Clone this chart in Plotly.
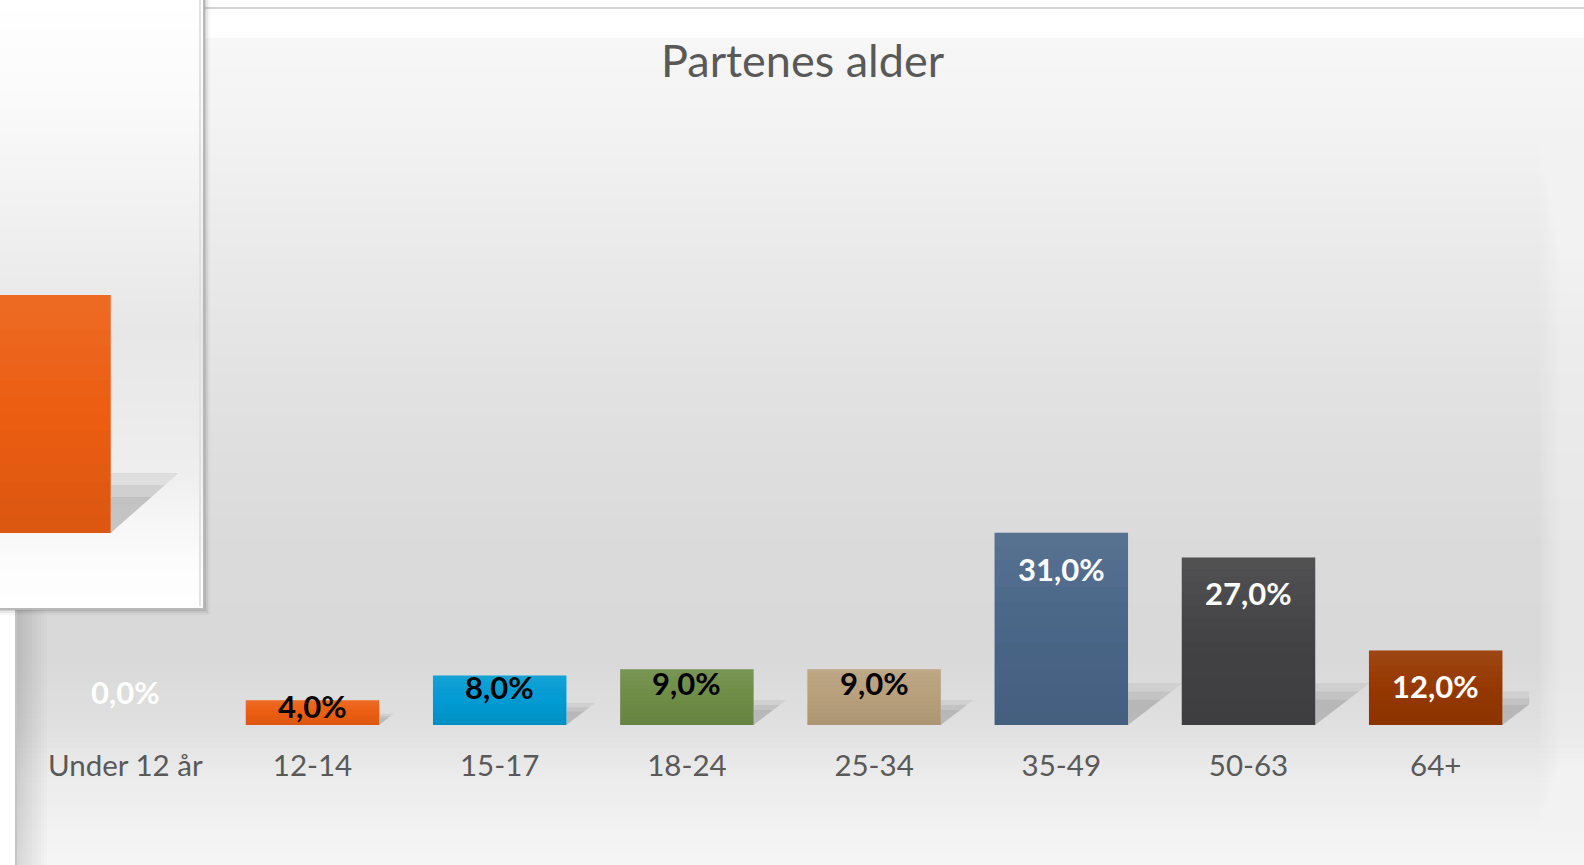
import plotly.graph_objects as go

# ---------------- data ----------------
categories = ["Under 12 år", "12-14", "15-17", "18-24", "25-34", "35-49", "50-63", "64+"]
shares = [0.0, 4.0, 8.0, 9.0, 9.0, 31.0, 27.0, 12.0]
chart_title = "Partenes alder"
# partially visible neighbouring chart (only one cropped bar is visible)
panel_shares = [38.4]

# ---------------- styling ----------------
W, H = 1584, 865
bar_colors = ["#ec5e12", "#ec5e12", "#009bd3", "#6f8d47", "#b8a07c", "#4a6688", "#434345", "#963800"]
label_colors = ["#ffffff", "#000000", "#000000", "#000000", "#000000", "#ffffff", "#ffffff", "#ffffff"]
label_offsets = [-33, 6, 12, 14, 14, 36, 35, 35]   # px below bar top (negative = above)
FONT = "Lato"
TXT = "#595959"
BAR_W = 0.713


def fx(x):
    return x / W


def fy(y):
    return 1 - y / H


px_per_unit_y = 6.2
base_y = 725
top_y = 105
ymax = (base_y - top_y) / px_per_unit_y
band = 187.2
x_left = 31.7
n = len(categories)
xs = list(range(n))

fig = go.Figure()

fig.add_trace(go.Bar(
    x=xs, y=shares, marker=dict(color=bar_colors, line=dict(width=0)),
    width=BAR_W, hoverinfo="skip", showlegend=False, xaxis="x", yaxis="y",
))

# neighbouring chart's bar
fig.add_trace(go.Bar(
    x=[0], y=panel_shares, marker=dict(color="#ec5e12", line=dict(width=0)),
    width=BAR_W, hoverinfo="skip", showlegend=False, xaxis="x2", yaxis="y2",
))

shapes = []

# background gradient of chart area
stops = [(38, 247), (120, 243), (250, 234), (400, 225), (550, 218), (660, 217),
         (725, 224), (780, 236), (865, 246)]


def grey_at(y):
    for (y0, c0), (y1, c1) in zip(stops[:-1], stops[1:]):
        if y0 <= y <= y1:
            t = (y - y0) / (y1 - y0)
            return c0 + (c1 - c0) * t
    return stops[-1][1]


step = 5
y = 38
while y < H:
    g = int(round(grey_at(y + step / 2)))
    shapes.append(dict(type="rect", xref="paper", yref="paper", layer="below",
                       x0=fx(16), x1=1, y0=fy(y + step + 0.5), y1=fy(y),
                       fillcolor=f"rgb({g},{g},{g})", line=dict(width=0)))
    y += step

# right light band of the frame (soft edge)
for i in range(8):
    shapes.append(dict(type="rect", xref="paper", yref="paper", layer="below",
                       x0=fx(1540 + i * 3), x1=1, y0=0, y1=fy(40),
                       fillcolor="rgba(255,255,255,0.07)", line=dict(width=0)))
# left shading of the frame
for i in range(10):
    shapes.append(dict(type="rect", xref="paper", yref="paper", layer="below",
                       x0=fx(17), x1=fx(20 + i * 3), y0=0, y1=fy(40),
                       fillcolor="rgba(0,0,0,0.012)", line=dict(width=0)))
# white strip at far left and frame line
shapes.append(dict(type="rect", xref="paper", yref="paper", layer="below",
                   x0=0, x1=fx(15), y0=0, y1=fy(600),
                   fillcolor="#ffffff", line=dict(width=0)))
shapes.append(dict(type="line", xref="paper", yref="paper", layer="below",
                   x0=fx(16), x1=fx(16), y0=0, y1=fy(600),
                   line=dict(color="#c4c4c4", width=2)))
# top line
shapes.append(dict(type="line", xref="paper", yref="paper", layer="below",
                   x0=fx(205), x1=1, y0=fy(8), y1=fy(8),
                   line=dict(color="#d4d4d4", width=2)))

# left overlapping panel
pstops = [(0, 255), (100, 250), (330, 231), (470, 238), (560, 252), (609, 254)]


def pgrey(y):
    for (y0, c0), (y1, c1) in zip(pstops[:-1], pstops[1:]):
        if y0 <= y <= y1:
            return c0 + (c1 - c0) * (y - y0) / (y1 - y0)
    return pstops[-1][1]


# panel drop shadow
for i, a in enumerate([0.10, 0.06, 0.03]):
    shapes.append(dict(type="rect", xref="paper", yref="paper", layer="below",
                       x0=0, x1=fx(206 + 2 * i), y0=fy(611 + 2 * i), y1=1,
                       fillcolor=f"rgba(0,0,0,{a})", line=dict(width=0)))
y = 0
while y < 609:
    g = int(round(pgrey(y + 3)))
    shapes.append(dict(type="rect", xref="paper", yref="paper", layer="below",
                       x0=0, x1=fx(203), y0=fy(min(y + 7, 609)), y1=fy(y),
                       fillcolor=f"rgb({g},{g},{g})", line=dict(width=0)))
    y += 6
shapes.append(dict(type="rect", xref="paper", yref="paper", layer="below",
                   x0=fx(-2), x1=fx(204), y0=fy(609), y1=fy(-2),
                   fillcolor="rgba(0,0,0,0)", line=dict(color="#b8b8b8", width=2)))
shapes.append(dict(type="line", xref="paper", yref="paper", layer="below",
                   x0=fx(200), x1=fx(200), y0=fy(606), y1=1,
                   line=dict(color="#e2e2e2", width=2)))


def floor_shadow(xref, yref, right, h, w, alpha):
    """soft triangular floor shadow to the right of a bar (h, w in axis units)"""
    out = []
    for k in (1.0, 0.8, 0.6):
        out.append(dict(type="path", xref=xref, yref=yref, layer="below",
                        path=(f"M {right} 0 L {right} {h * k} "
                              f"L {right + w * k} {h * k} Z"),
                        fillcolor=f"rgba(0,0,0,{alpha})", line=dict(width=0)))
    return out


def bar_gradient(xref, yref, xc, v, steps=14):
    """vertical light-to-dark sheen drawn over a bar"""
    out = []
    for k in range(steps):
        t = (k + 0.5) / steps
        if t >= 0.5:
            col = f"rgba(255,255,255,{0.16 * (t - 0.5):.3f})"
        else:
            col = f"rgba(0,0,0,{0.14 * (0.5 - t):.3f})"
        out.append(dict(type="rect", xref=xref, yref=yref, layer="above",
                        x0=xc - BAR_W / 2, x1=xc + BAR_W / 2,
                        y0=v * k / steps, y1=v * (k + 1) / steps,
                        fillcolor=col, line=dict(width=0)))
    return out


# shadow + sheen of the panel bar
shapes += floor_shadow("x2", "y2", BAR_W / 2, 60 / px_per_unit_y, 68 / band, 0.07)
shapes += bar_gradient("x2", "y2", 0, panel_shares[0])

# bar shadows + sheen (main chart)
for i, v in enumerate(shares):
    if v <= 0:
        continue
    h_px = min(0.45 * v * px_per_unit_y, 42)
    shapes += floor_shadow("x", "y", i + BAR_W / 2, h_px / px_per_unit_y,
                           1.3 * h_px / band, 0.06)
    shapes += bar_gradient("x", "y", i, v)

annotations = []
for i, v in enumerate(shares):
    annotations.append(dict(
        x=i, y=v, xref="x", yref="y", text=f"{v:.1f}%".replace(".", ","),
        showarrow=False, yanchor="middle", xanchor="center", yshift=-label_offsets[i],
        font=dict(family=FONT, size=31, color=label_colors[i], weight=700),
    ))
annotations.append(dict(
    x=fx(803), y=fy(60), xref="paper", yref="paper", text=chart_title,
    showarrow=False, xanchor="center", yanchor="middle",
    font=dict(family=FONT, size=45, color=TXT),
))

x_right = x_left + band * n
fig.update_layout(
    width=W, height=H, margin=dict(l=0, r=0, t=0, b=0),
    paper_bgcolor="#ffffff", plot_bgcolor="rgba(0,0,0,0)",
    shapes=shapes, annotations=annotations, bargap=0.287,
    xaxis=dict(domain=[fx(x_left), fx(x_right)], range=[-0.5, n - 0.5],
               tickvals=xs, ticktext=categories, showgrid=False, zeroline=False,
               showline=False, ticks="", ticklabelstandoff=20,
               tickfont=dict(family=FONT, size=29.5, color=TXT), fixedrange=True),
    yaxis=dict(domain=[fy(base_y), fy(top_y)], range=[0, ymax], visible=False,
               showgrid=False, zeroline=False, fixedrange=True),
    xaxis2=dict(domain=[0, fx(203)], range=[-44 / band, (203 - 44) / band],
                visible=False, anchor="y2", fixedrange=True),
    yaxis2=dict(domain=[fy(533), fy(top_y)], range=[0, (533 - top_y) / px_per_unit_y],
                visible=False, anchor="x2", fixedrange=True),
    showlegend=False,
)

fig.write_html("out.html", config={"displayModeBar": False},
               post_script="document.body.style.margin='0';document.body.style.overflow='hidden';")
